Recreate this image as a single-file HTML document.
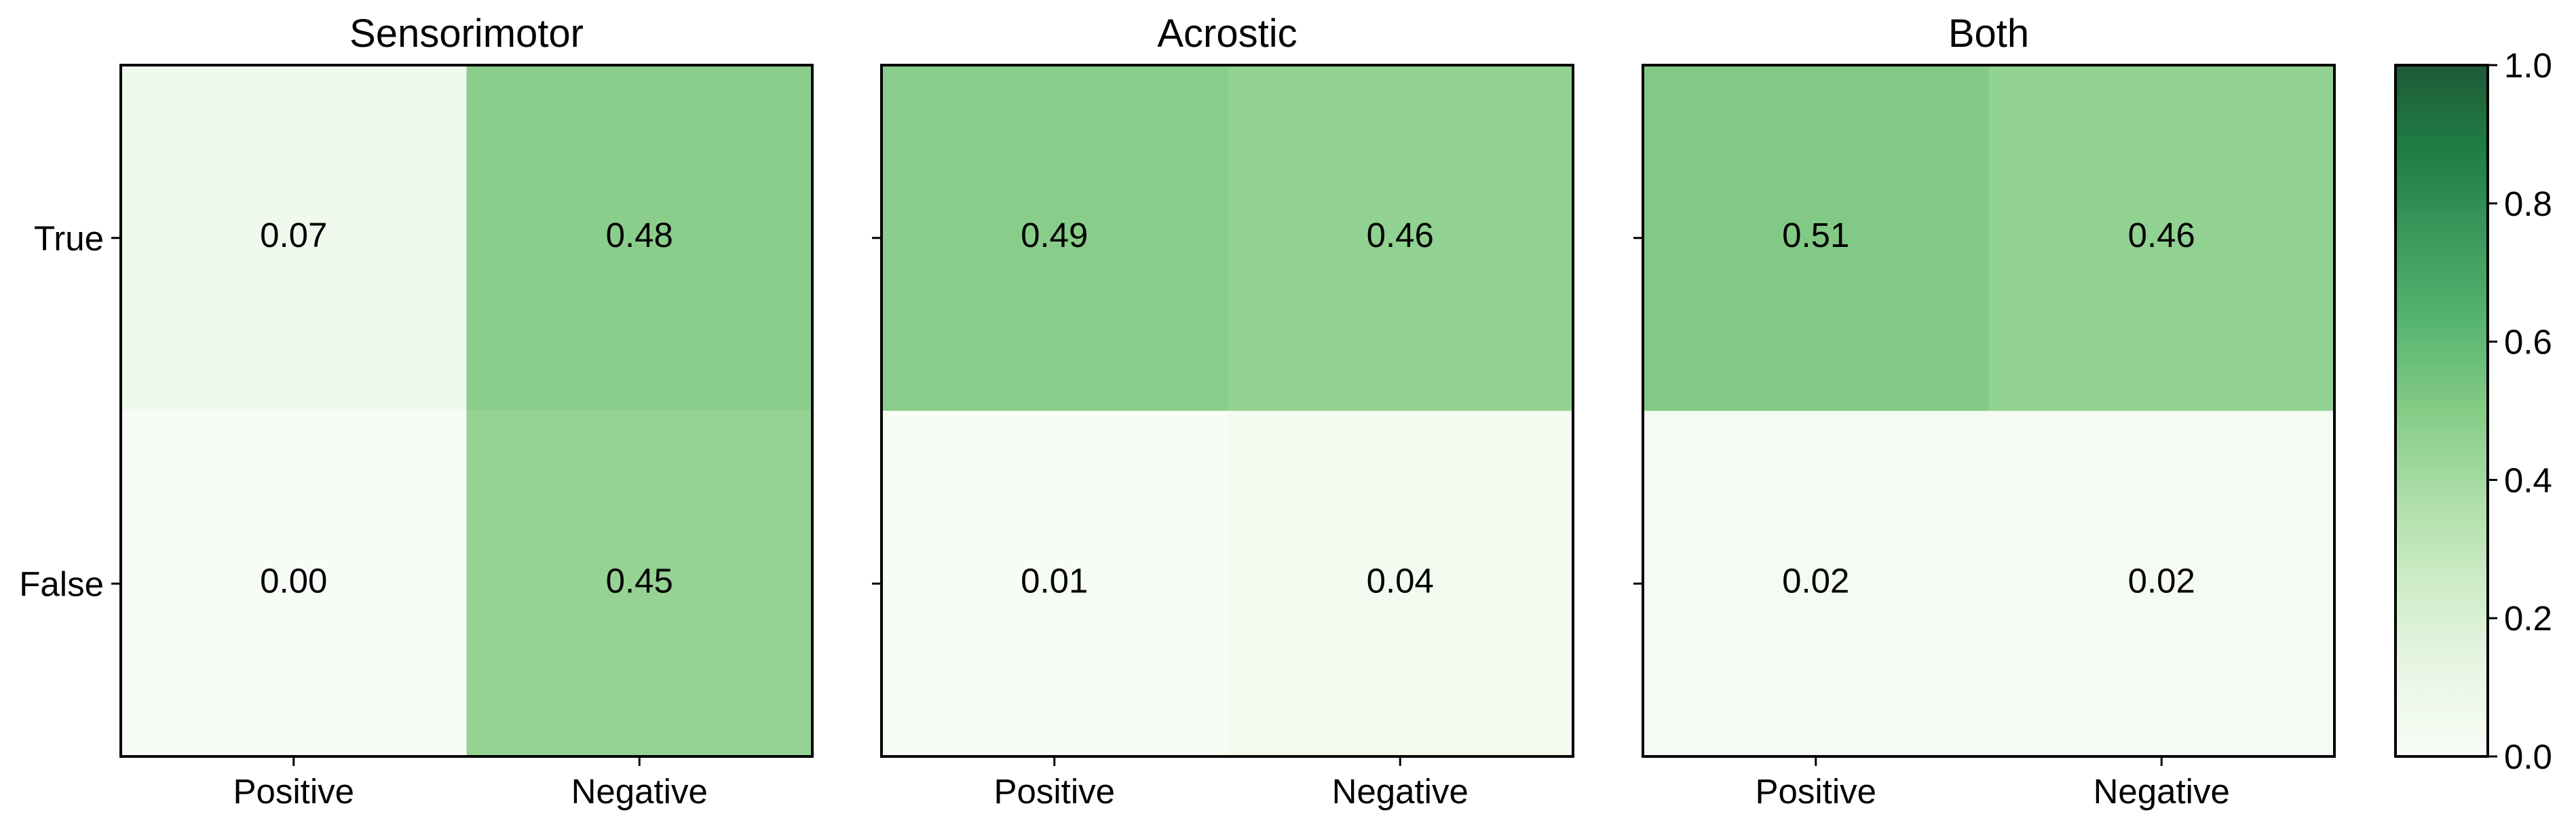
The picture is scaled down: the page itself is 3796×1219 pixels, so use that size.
<!DOCTYPE html>
<html><head><meta charset="utf-8"><style>
html,body{margin:0;padding:0;background:#fff;}
svg{display:block;font-family:"Liberation Sans",sans-serif;}
</style></head><body>
<svg id="chart" width="3796" height="1219" viewBox="0 0 3796 1219">
<defs>
<linearGradient id="cbgrad" x1="0" y1="1" x2="0" y2="0"></linearGradient>
</defs>
</svg>
<script>
const panelTitles = ["Sensorimotor", "Acrostic", "Both"];
const xCategories = ["Positive", "Negative"];
const yCategories = ["True", "False"];
const sensorimotorValues = [[0.07, 0.48], [0.00, 0.45]];
const acrosticValues = [[0.49, 0.46], [0.01, 0.04]];
const bothValues = [[0.51, 0.46], [0.02, 0.02]];
const colorbarTicks = [0.0, 0.2, 0.4, 0.6, 0.8, 1.0];
const tickLabels = ["0.0", "0.2", "0.4", "0.6", "0.8", "1.0"];

const NS = "http://www.w3.org/2000/svg";
const svg = document.getElementById("chart");
const greens = ["#f7fcf5","#e5f5e0","#c7e9c0","#a1d99b","#74c476","#41ab5d","#238b45","#006d2c","#00441b"];
const ALPHA = 0.88;
function hex(h){return [1,3,5].map(i=>parseInt(h.substr(i,2),16));}
function color(v){
  v=Math.max(0,Math.min(1,v));
  const p=v*8, i=Math.min(7,Math.floor(p)), t=p-i;
  const a=hex(greens[i]), b=hex(greens[i+1]);
  const c=a.map((x,k)=>x+(b[k]-x)*t).map(x=>Math.round(x*ALPHA+255*(1-ALPHA)));
  return "rgb("+c.join(",")+")";
}
function el(tag, attrs, parent){
  const e=document.createElementNS(NS,tag);
  for(const k in attrs) e.setAttribute(k, attrs[k]);
  (parent||svg).appendChild(e); return e;
}
const panelLefts = [178, 1299, 2421];
const W = 1019, TOP = 96, BOT = 1115, H = BOT - TOP;
const allValues = [sensorimotorValues, acrosticValues, bothValues];

allValues.forEach((vals, p) => {
  const L = panelLefts[p];
  const g = el("g", {});
  
  
  const xScale = j => L + j * W / xCategories.length;
  const yScale = i => TOP + i * H / yCategories.length;
  const cw = W / xCategories.length, ch = H / yCategories.length;
  vals.forEach((row, i) => row.forEach((v, j) => {
    const r = el("rect", {x: xScale(j), y: yScale(i), width: cw + 0.5, height: ch + 0.5, fill: color(v)}, g);
    
    
    const t = el("text", {x: xScale(j) + cw/2, y: yScale(i) + ch/2 + 13, "text-anchor": "middle", "font-size": 51, fill: "#000"}, g);
    t.textContent = v.toFixed(2);
    
    
  }));
  const frame = el("rect", {x: L, y: TOP, width: W, height: H, fill: "none", stroke: "#000", "stroke-width": 4}, g);
  
  
  const title = el("text", {x: L + W/2, y: 69, "text-anchor": "middle", "font-size": 58, fill: "#000"}, g);
  title.textContent = panelTitles[p];
  
  
  xCategories.forEach((c, j) => {
    const cx = xScale(j) + cw/2;
    el("line", {x1: cx, x2: cx, y1: BOT, y2: BOT + 14, stroke: "#000", "stroke-width": 3}, g);
    const t = el("text", {x: cx, y: 1184, "text-anchor": "middle", "font-size": 51, fill: "#000"}, g);
    t.textContent = c;
    
    
  });
  yCategories.forEach((c, i) => {
    const cy = yScale(i) + ch/2;
    el("line", {x1: L - 14, x2: L, y1: cy, y2: cy, stroke: "#000", "stroke-width": 3}, g);
    if (p === 0) {
      const t = el("text", {x: L - 25, y: cy + 18, "text-anchor": "end", "font-size": 51, fill: "#000"}, g);
      t.textContent = c;
      
      
    }
  });
});

// colorbar
const grad = document.getElementById("cbgrad");
for (let k = 0; k <= 32; k++) {
  el("stop", {offset: (k/32), "stop-color": color(k/32)}, grad);
}
const CBL = 3530, CBW = 136;
const cb = el("g", {});


el("rect", {x: CBL, y: TOP, width: CBW, height: H, fill: "url(#cbgrad)", stroke: "#000", "stroke-width": 4}, cb);
const cbY = v => BOT - v * H;
colorbarTicks.forEach((v, k) => {
  el("line", {x1: CBL + CBW, x2: CBL + CBW + 14, y1: cbY(v), y2: cbY(v), stroke: "#000", "stroke-width": 3}, cb);
  const t = el("text", {x: CBL + CBW + 24, y: cbY(v) + 18, "font-size": 51, fill: "#000"}, cb);
  t.textContent = tickLabels[k];
  
  
});
</script>
</body></html>
